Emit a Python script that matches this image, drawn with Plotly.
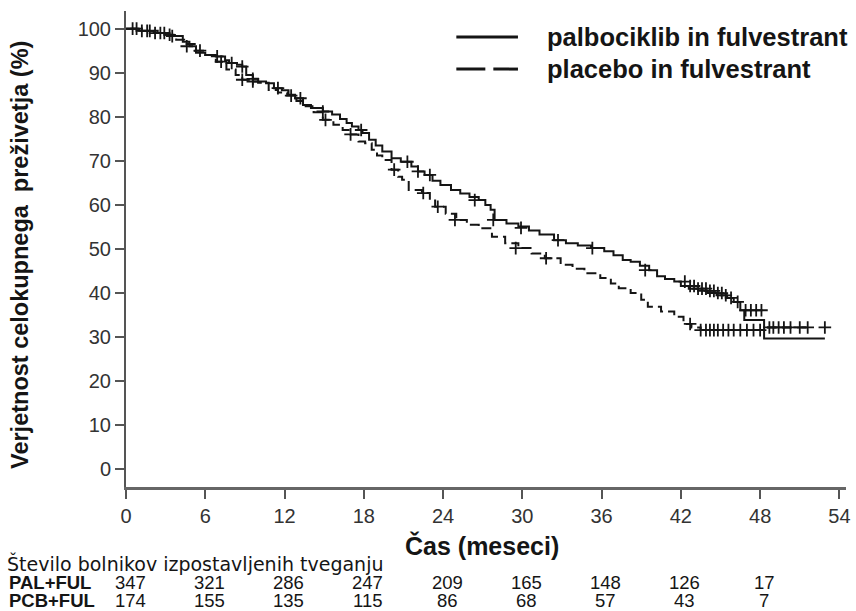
import plotly.graph_objects as go

# ---- data ----
pal_t = [0, 1.0, 2.1, 3.0, 3.6, 4.3, 4.8, 5.3, 6.0, 6.8, 7.5, 7.8, 8.4, 8.8, 9.1, 9.6, 10.0, 10.6,
         11.2, 11.8, 12.3, 12.8, 13.4, 14.0, 14.9, 15.6, 16.2, 16.7, 17.1, 17.6, 17.9, 18.4, 18.9,
         19.4, 20.1, 20.8, 21.6, 22.1, 22.6, 23.2, 23.8, 24.6, 25.3, 26.0, 26.7, 27.2, 27.6, 27.9,
         28.8, 29.7, 30.5, 31.3, 32.4, 33.3, 34.2, 35.2, 36.2, 36.9, 37.6, 38.2, 38.9, 39.6, 40.2,
         40.8, 41.5, 42.0, 42.6, 43.3, 44.0, 44.7, 45.5, 46.0, 46.5, 46.8, 48.3, 52.9]
pal_s = [100, 99.5, 99, 98.6, 98.3, 97, 96, 94.5, 94, 93.7, 92.8, 92.2, 91.8, 91.4, 89.5, 88.6, 88.0,
         87.6, 86.5, 86.0, 85.0, 84.2, 82.7, 82.0, 81.2, 80.5, 79.5, 78.6, 77.8, 77.0, 76.3, 74.8,
         73.5, 72.1, 70.6, 69.8, 68.7, 67.6, 66.8, 65.5, 64.5, 63.4, 62.6, 61.8, 61.1, 60.0, 58.9,
         56.6, 55.8, 55.1, 54.2, 53.3, 52.0, 51.3, 50.8, 50.2, 49.5, 48.6, 47.5, 47.1, 46.2, 45.2,
         43.8, 43.2, 42.6, 41.6, 41.0, 40.5, 40.0, 39.5, 38.9, 38.0, 36.1, 33.9, 29.7, 29.7]

pcb_t = [0, 1.2, 2.4, 3.2, 3.8, 4.4, 5.2, 6.0, 6.8, 7.6, 8.3, 8.8, 9.5, 10.0, 10.8, 11.5, 12.2, 12.9,
         13.6, 14.2, 14.9, 15.7, 16.4, 17.0, 17.6, 18.1, 18.6, 19.0, 19.4, 20.1, 20.6, 20.9, 21.4,
         22.4, 23.0, 23.4, 24.2, 25.0, 25.8, 26.7, 27.7, 28.7, 29.7, 30.7, 31.7, 32.9, 33.8, 34.7,
         35.9, 36.7, 37.3, 38.2, 39.0, 39.5, 40.5, 41.5, 42.2, 42.8, 43.5, 48.4, 51.6]
pcb_s = [100, 99.5, 99, 98.3, 97.5, 96.5, 95, 94, 92.5, 90.7, 89.5, 88.4, 88.0, 87.7, 86.1, 85.5,
         84.8, 83.6, 82.4, 81.0, 79.3, 78.2, 77.0, 76.0, 74.4, 74.0, 72.5, 71.2, 70.2, 68.0, 66.4,
         65.7, 63.4, 62.7, 61.0, 59.6, 58.0, 56.6, 55.5, 54.7, 52.8, 51.3, 50.2, 49.0, 47.9, 46.4,
         45.5, 44.5, 43.4, 42.2, 41.1, 40.0, 38.5, 36.9, 35.8, 34.6, 33.0, 32.2, 31.6, 32.2, 32.2]

pal_cens_t = [0.5, 1.2, 1.8, 2.6, 3.3, 4.6, 6.9, 8.0, 8.8, 9.6, 11.5, 13.2, 14.9, 17.8, 21.3, 22.1,
              23.0, 26.4, 27.8, 29.9, 32.7, 35.3, 39.3, 42.3, 42.7, 43.0, 43.3, 43.6, 43.9, 44.2,
              44.5, 44.8, 45.1, 45.4, 45.8, 46.3, 46.9, 47.3, 47.7, 48.1]
pal_cens_s = [100, 99.5, 99.5, 99, 98.6, 96, 93.7, 92.2, 91.4, 88.6, 86.5, 84.2, 81.2, 77.0, 69.8,
              67.6, 66.8, 61.1, 56.6, 54.8, 52.0, 50.2, 45.2, 42.6, 41.6, 41.6, 41.0, 41.0, 41.0,
              40.5, 40.5, 40.0, 40.0, 39.5, 38.9, 38.0, 36.1, 36.1, 36.1, 36.1]

pcb_cens_t = [0.8, 1.6, 2.2, 2.9, 3.5, 5.6, 7.2, 8.8, 9.6, 12.5, 15.1, 17.0, 20.3, 22.5, 23.6, 24.9,
              29.5, 31.8, 42.7, 43.5, 43.9, 44.2, 44.5, 44.8, 45.2, 45.6, 46.0, 46.5, 47.0, 47.5,
              48.0, 48.7, 49.0, 49.4, 49.8, 50.3, 51.0, 51.6, 52.9]
pcb_cens_s = [100, 99.5, 99, 99, 98.3, 95, 92.5, 88.4, 88.0, 84.8, 79.3, 76.0, 68.0, 62.7, 59.6, 56.6,
              50.2, 47.9, 33.0, 31.6, 31.6, 31.6, 31.6, 31.6, 31.6, 31.6, 31.6, 31.6, 31.6, 31.6,
              31.6, 32.2, 32.2, 32.2, 32.2, 32.2, 32.2, 32.2, 32.2]

x_ticks = [0, 6, 12, 18, 24, 30, 36, 42, 48, 54]
y_ticks = [0, 10, 20, 30, 40, 50, 60, 70, 80, 90, 100]
risk_times = [0, 6, 12, 18, 24, 30, 36, 42, 48]
risk_pal = [347, 321, 286, 247, 209, 165, 148, 126, 17]
risk_pcb = [174, 155, 135, 115, 86, 68, 57, 43, 7]

series_names = ["palbociklib in fulvestrant", "placebo in fulvestrant"]
row_labels = ["PAL+FUL", "PCB+FUL"]

FONT = "Arial, Liberation Sans, sans-serif"
WIDE = "DejaVu Sans, Verdana, sans-serif"
INK = "#151515"

fig = go.Figure()
fig.add_trace(go.Scatter(x=pal_t, y=pal_s, mode="lines", line_shape="hv",
                         line=dict(color=INK, width=2), name=series_names[0], showlegend=False))
fig.add_trace(go.Scatter(x=pcb_t, y=pcb_s, mode="lines", line_shape="hv",
                         line=dict(color=INK, width=2, dash="10px,5px"), name=series_names[1],
                         showlegend=False))
fig.add_trace(go.Scatter(x=pal_cens_t, y=pal_cens_s, mode="markers",
                         marker=dict(symbol="cross-thin", size=9, line=dict(color=INK, width=1.8)),
                         showlegend=False, hoverinfo="skip"))
fig.add_trace(go.Scatter(x=pcb_cens_t, y=pcb_cens_s, mode="markers",
                         marker=dict(symbol="cross-thin", size=9, line=dict(color=INK, width=1.8)),
                         showlegend=False, hoverinfo="skip"))

# manual legend
leg_y = [0.9454, 0.878]
dashes = ["solid", "29px,8px"]
for i in range(2):
    fig.add_shape(type="line", xref="paper", yref="paper", x0=0.4588, x1=0.5444,
                  y0=leg_y[i], y1=leg_y[i], line=dict(color=INK, width=3, dash=dashes[i]))
    fig.add_annotation(xref="paper", yref="paper", x=0.582, y=leg_y[i], text=series_names[i],
                       showarrow=False, xanchor="left", yanchor="middle",
                       font=dict(family=FONT, size=25.5, color=INK, weight="bold"))

# axis titles
fig.add_annotation(xref="paper", yref="paper", x=-0.1475, y=0.487, textangle=-90,
                   text="Verjetnost celokupnega  preživetja (%)", showarrow=False,
                   xanchor="center", yanchor="middle",
                   font=dict(family=FONT, size=23.5, color=INK, weight="bold"))
fig.add_annotation(xref="paper", yref="paper", x=0.495, y=-0.122,
                   text="Čas (meseci)", showarrow=False, xanchor="center", yanchor="middle",
                   font=dict(family=FONT, size=25, color=INK, weight="bold"))

# risk table
fig.add_annotation(xref="paper", yref="paper", x=-0.1685, y=-0.160,
                   text="Število bolnikov izpostavljenih tveganju", showarrow=False,
                   xanchor="left", yanchor="middle",
                   font=dict(family=WIDE, size=19, color=INK))
rows = [risk_pal, risk_pcb]
row_y = [-0.2007, -0.2374]
for r in range(2):
    fig.add_annotation(xref="paper", yref="paper", x=-0.165, y=row_y[r], text=row_labels[r],
                       showarrow=False, xanchor="left", yanchor="middle",
                       font=dict(family=FONT, size=18.5, color=INK, weight="bold"))
    for t, n in zip(risk_times, rows[r]):
        fig.add_annotation(xref="x", yref="paper", x=t, y=row_y[r], text=str(n), xshift=4,
                           showarrow=False, xanchor="center", yanchor="middle",
                           font=dict(family=FONT, size=18.5, color=INK))

fig.update_layout(
    width=856, height=611,
    margin=dict(l=126, r=6, t=11, b=124),
    paper_bgcolor="white", plot_bgcolor="white",
    font=dict(family=FONT, color="#333"),
    xaxis=dict(range=[0, 54.5], tickvals=x_ticks, ticks="outside", ticklen=9, tickwidth=2,
               tickcolor="#555", showline=True, linecolor="#666", linewidth=2.5,
               showgrid=False, zeroline=False, tickfont=dict(size=20, color="#333")),
    yaxis=dict(range=[-4, 104], tickvals=y_ticks, ticks="outside", ticklen=9, tickwidth=2,
               tickcolor="#555", showline=True, linecolor="#555", linewidth=2,
               showgrid=False, zeroline=False, tickfont=dict(size=20, color="#333")),
)

fig.write_html("out.html")
